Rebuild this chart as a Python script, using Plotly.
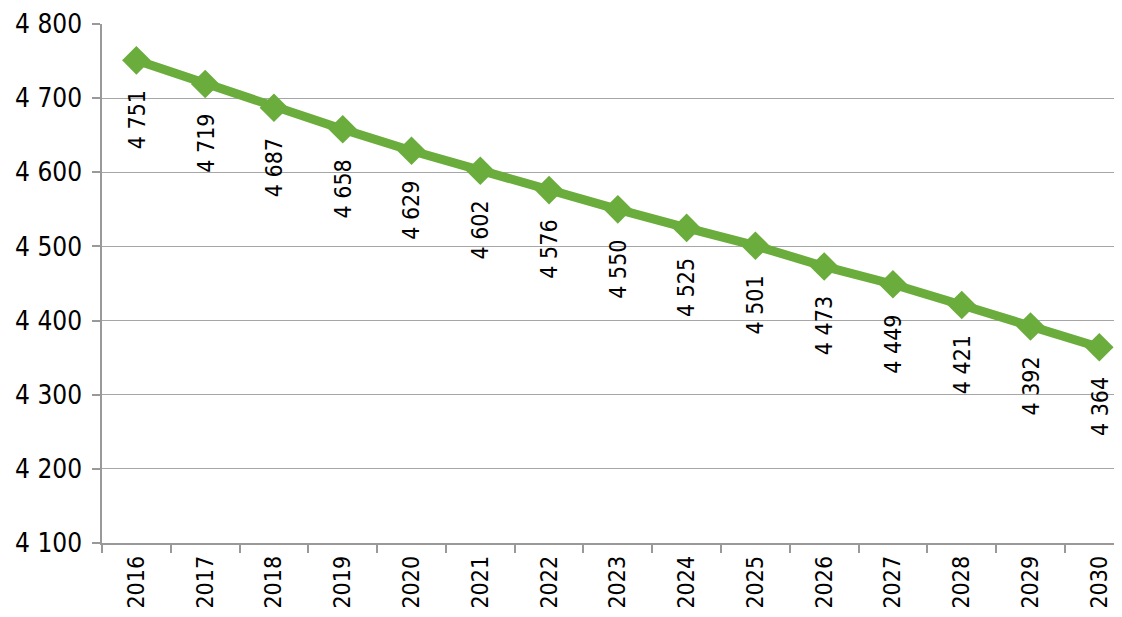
import plotly.graph_objects as go

years = ["2016","2017","2018","2019","2020","2021","2022","2023","2024","2025","2026","2027","2028","2029","2030"]
values = [4751,4719,4687,4658,4629,4602,4576,4550,4525,4501,4473,4449,4421,4392,4364]
y_ticks = [4100,4200,4300,4400,4500,4600,4700,4800]
y_labels = ["4 100","4 200","4 300","4 400","4 500","4 600","4 700","4 800"]

def fmt(v):
    return f"{v:,}".replace(",", " ")

FONT = "DejaVu Sans Condensed, Roboto, sans-serif"
GREEN = "#6aad3d"

fig = go.Figure()
fig.add_trace(go.Scatter(
    x=years, y=values, mode="lines+markers",
    line=dict(color=GREEN, width=9),
    marker=dict(symbol="diamond", size=22, color=GREEN),
    hoverinfo="skip", showlegend=False,
))

for i, v in enumerate(values):
    fig.add_annotation(x=i, y=v, xref="x", yref="y", text=fmt(v), showarrow=False,
                       textangle=-90, xanchor="center", yanchor="top", yshift=-28,
                       font=dict(family=FONT, size=23, color="#000"))

fig.update_layout(
    width=1114, height=601,
    margin=dict(l=94, r=0, t=16, b=66, autoexpand=False),
    plot_bgcolor="white", paper_bgcolor="white",
    font=dict(family=FONT, size=23, color="#000"),
    xaxis=dict(type="category", range=[-0.5, 14.33], tickson="boundaries",
               ticks="outside", ticklen=8, tickcolor="#999", tickwidth=1.5,
               showline=True, linecolor="#999", linewidth=1.5, automargin=False,
               showgrid=False, tickangle=-90, ticklabelstandoff=2,
               tickfont=dict(family=FONT, size=23)),
    yaxis=dict(range=[4100, 4800], tickvals=y_ticks, ticktext=y_labels,
               ticks="outside", ticklen=8, tickcolor="#999", tickwidth=1.5,
               showline=True, linecolor="#999", linewidth=1.5, automargin=False,
               showgrid=True, gridcolor="#a6a6a6", gridwidth=1.2, zeroline=False,
               ticklabelstandoff=5, tickfont=dict(family=FONT, size=26)),
)

fig.write_html("out.html")
